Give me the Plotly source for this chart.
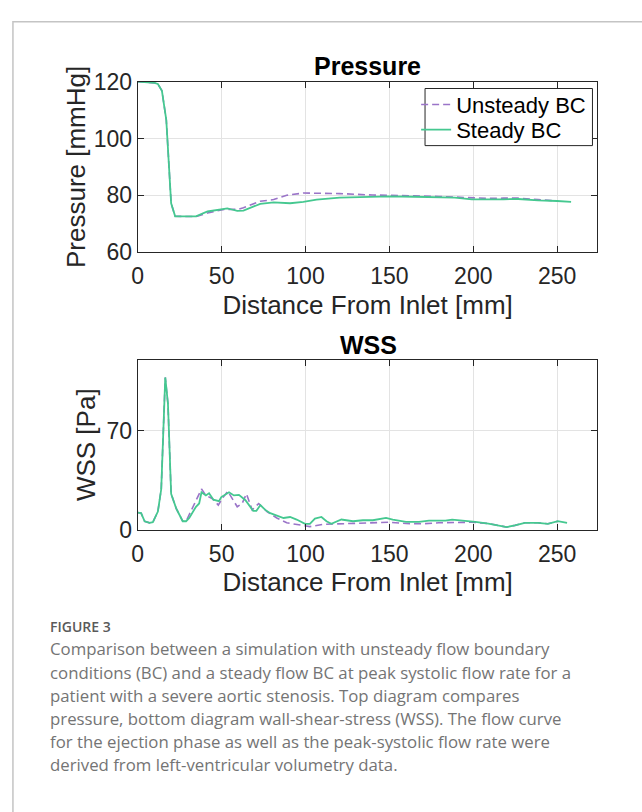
import plotly.graph_objects as go

# ---------------- data ----------------
p_steady_x = [0, 5, 10, 12, 14.4, 17, 19.9, 22.3, 27.5, 34.7, 41.6, 47, 51.4, 53.4, 56, 59.3, 63, 68, 73, 81, 90.8,
              98.7, 106.6, 120.4, 140, 150, 165, 179.5, 189, 199.2, 209, 218, 226.8, 238.6, 250, 258.3]
p_steady_y = [120, 119.9, 119.6, 119.2, 116.8, 106.6, 77.2, 72.6, 72.5, 72.6, 74.3, 74.9, 75.4, 75.4, 75.0, 74.5,
              74.6, 75.8, 77.0, 77.5, 77.2, 77.7, 78.5, 79.2, 79.6, 79.6, 79.5, 79.4, 79.2, 78.6, 78.5, 78.6, 78.7,
              78.2, 78.0, 77.7]

p_unsteady_x = [0, 5, 10, 12, 14.4, 17, 19.9, 22.3, 27.5, 34.7, 41.6, 47, 51.4, 56, 59.3, 63, 68, 73, 81, 88.8,
                98.7, 106.6, 120.4, 140, 150, 165, 179.5, 189, 199.2, 209, 218, 226.8, 238.6, 250]
p_unsteady_y = [120, 119.9, 119.6, 119.2, 116.8, 106.6, 77.2, 72.6, 72.5, 72.5, 73.8, 74.6, 75.0, 75.1, 75.0,
                75.6, 76.8, 77.9, 78.5, 80.0, 80.8, 80.8, 80.6, 80.1, 79.9, 79.8, 79.6, 79.4, 79.2, 78.9, 79.0,
                79.0, 78.5, 78.0]

w_steady_x = [0, 2, 4.1, 7, 9, 12, 14, 16.4, 18, 19.9, 22.9, 26.8, 28.8, 30.7, 34.7, 36.6, 38, 40.6, 42.5, 45.1,
              48.4, 49.8, 54.4, 57.3, 60.3, 64.2, 68.8, 70.7, 73.1, 76, 79, 82.9, 86.9, 90.8, 94.7, 99.7, 102.6,
              105.6, 109.5, 112.5, 115.4, 121.4, 128.3, 134.2, 140.1, 148, 152, 159.9, 167.7, 173.6, 183.4, 187.4,
              195.3, 201.2, 209, 219.9, 224.8, 230.7, 238.6, 244.5, 250.4, 255.9]
w_steady_y = [12.2, 11.8, 6.1, 5.0, 5.4, 12.9, 28.8, 107.4, 88.8, 25.4, 15.2, 6.1, 6.1, 8.4, 16.3, 18.6, 26.5,
              24.3, 25.8, 21.3, 20.2, 23.1, 26.5, 24.3, 24.7, 20.9, 13.4, 13.4, 17.5, 14.1, 11.8, 10.0, 8.4, 9.1,
              7.3, 4.3, 4.3, 8.0, 9.1, 6.1, 4.3, 7.3, 6.1, 6.8, 6.8, 8.4, 7.3, 5.7, 5.7, 6.6, 6.6, 7.3, 6.6, 5.7,
              4.5, 2.0, 3.2, 5.0, 5.0, 4.3, 6.1, 5.0]

w_unsteady_x = [0, 2, 4.1, 7, 9, 12, 14, 16.4, 18, 19.9, 22.9, 26.8, 28.8, 33.7, 38, 40.6, 44.5, 48, 50.3, 53.7,
                56.3, 59.3, 62.2, 64.8, 68.2, 72.1, 77, 82.9, 88.8, 94.7, 102.6, 110.5, 120.4, 130.2, 140.1, 150,
                159.9, 169.7, 179.5, 189.4, 199.3, 209, 219.9, 224.8, 230.7, 238.6, 244.5, 250.4]
w_unsteady_y = [12.2, 11.8, 6.1, 5.0, 5.4, 12.9, 28.8, 107.4, 88.8, 25.4, 15.2, 6.1, 6.1, 18.6, 28.8, 24.3, 22.0,
                17.5, 22.0, 27.2, 22.0, 16.3, 18.6, 25.4, 14.1, 18.6, 12.9, 8.4, 5.0, 3.9, 2.3, 3.9, 4.3, 5.0, 5.0,
                5.4, 4.5, 4.3, 5.0, 5.0, 5.4, 4.5, 2.0, 3.2, 5.0, 5.0, 4.3, 6.1]

x_ticks = [0, 50, 100, 150, 200, 250]
p_ticks = [60, 80, 100, 120]
w_ticks = [0, 70]

caption_head = "FIGURE 3"
caption_lines = [
    "Comparison between a simulation with unsteady flow boundary",
    "conditions (BC) and a steady flow BC at peak systolic flow rate for a",
    "patient with a severe aortic stenosis. Top diagram compares",
    "pressure, bottom diagram wall-shear-stress (WSS). The flow curve",
    "for the ejection phase as well as the peak-systolic flow rate were",
    "derived from left-ventricular volumetry data.",
]

# ---------------- styling ----------------
W, H = 642, 812
GREEN = "#45c890"
PURPLE = "#9a74c8"
AX = "#262626"
GRID = "#e3e3e3"
FONT = "Liberation Sans, Arial, sans-serif"
DASH = "7px,4px"

def py(px):
    return (H - px) / H

def pxx(px):
    return px / W

fig = go.Figure()

fig.add_trace(go.Scatter(x=p_unsteady_x, y=p_unsteady_y, mode="lines", name="Unsteady BC", legend="legend",
                         line=dict(color=PURPLE, width=1.6, dash=DASH), xaxis="x", yaxis="y"))
fig.add_trace(go.Scatter(x=p_steady_x, y=p_steady_y, mode="lines", name="Steady BC", legend="legend2",
                         line=dict(color=GREEN, width=1.8), xaxis="x", yaxis="y"))
fig.add_trace(go.Scatter(x=w_unsteady_x, y=w_unsteady_y, mode="lines", name="Unsteady BC", showlegend=False,
                         line=dict(color=PURPLE, width=1.6, dash=DASH), xaxis="x2", yaxis="y2"))
fig.add_trace(go.Scatter(x=w_steady_x, y=w_steady_y, mode="lines", name="Steady BC", showlegend=False,
                         line=dict(color=GREEN, width=1.8), xaxis="x2", yaxis="y2"))

xdom = [pxx(133), pxx(597)]
axis_common = dict(showline=True, linecolor=AX, linewidth=1.3, mirror="ticks", ticks="inside", ticklen=6,
                   tickcolor=AX, tickwidth=1.2, showgrid=True, gridcolor=GRID, gridwidth=1, zeroline=False,
                   tickfont=dict(family=FONT, size=23, color=AX))
title_font = dict(family=FONT, size=26, color=AX)
legend_common = dict(xanchor="left", yanchor="top", bgcolor="rgba(0,0,0,0)", borderwidth=0,
                     font=dict(family=FONT, size=22, color="#000"), itemwidth=30)

fig.update_layout(
    width=W, height=H, margin=dict(l=0, r=0, t=0, b=0),
    paper_bgcolor="white", plot_bgcolor="white",
    showlegend=True,
    legend=dict(x=pxx(414), y=py(73), **legend_common),
    legend2=dict(x=pxx(414), y=py(99), **legend_common),
    xaxis=dict(domain=xdom, range=[0, 274], tickvals=x_ticks, anchor="y", ticklabelstandoff=3,
               title=dict(text="Distance From Inlet [mm]", font=title_font, standoff=7), **axis_common),
    yaxis=dict(domain=[py(247), py(71)], range=[60, 120], tickvals=p_ticks, anchor="x",
               title=dict(text="Pressure [mmHg]", font=title_font, standoff=0), **axis_common),
    xaxis2=dict(domain=xdom, range=[0, 274], tickvals=x_ticks, anchor="y2", ticklabelstandoff=3,
                title=dict(text="Distance From Inlet [mm]", font=title_font, standoff=6), **axis_common),
    yaxis2=dict(domain=[py(534), py(358)], range=[0, 120], tickvals=w_ticks, anchor="x2",
                title=dict(text="WSS [Pa]", font=title_font, standoff=3), **axis_common),
)

# legend box
fig.add_shape(type="rect", xref="paper", yref="paper", x0=pxx(423), x1=pxx(592), y0=py(137), y1=py(78),
              line=dict(color=AX, width=1), fillcolor="white", layer="above")

# subplot titles
fig.add_annotation(text="<b>Pressure</b>", x=pxx(365), y=py(55), xref="paper", yref="paper",
                   showarrow=False, font=dict(family=FONT, size=25, color="#000"), yanchor="middle")
fig.add_annotation(text="<b>WSS</b>", x=pxx(366), y=py(343), xref="paper", yref="paper",
                   showarrow=False, font=dict(family=FONT, size=25, color="#000"), yanchor="middle")

# caption
CAPFONT = "Open Sans, Noto Sans, sans-serif"
fig.add_annotation(text=caption_head, x=pxx(42), y=py(634), xref="paper", yref="paper", xanchor="left",
                   yanchor="middle", showarrow=False,
                   font=dict(family=CAPFONT, size=14, color="#5a5a5a", weight=600))
for i, line in enumerate(caption_lines):
    fig.add_annotation(text=line, x=pxx(42), y=py(657 + 23.8 * i), xref="paper", yref="paper", xanchor="left",
                       yanchor="middle", showarrow=False,
                       font=dict(family=CAPFONT, size=16.8, color="#747474"))

# outer frame
fig.add_shape(type="rect", xref="paper", yref="paper", x0=pxx(7), y0=-0.05, x1=1.05, y1=py(9),
              line=dict(color="#c4c4c4", width=1.5), fillcolor="rgba(0,0,0,0)", layer="below")

fig.write_html("out.html", config={"displayModeBar": False},
               post_script="document.body.style.margin='0px';document.documentElement.style.overflow='hidden';")
